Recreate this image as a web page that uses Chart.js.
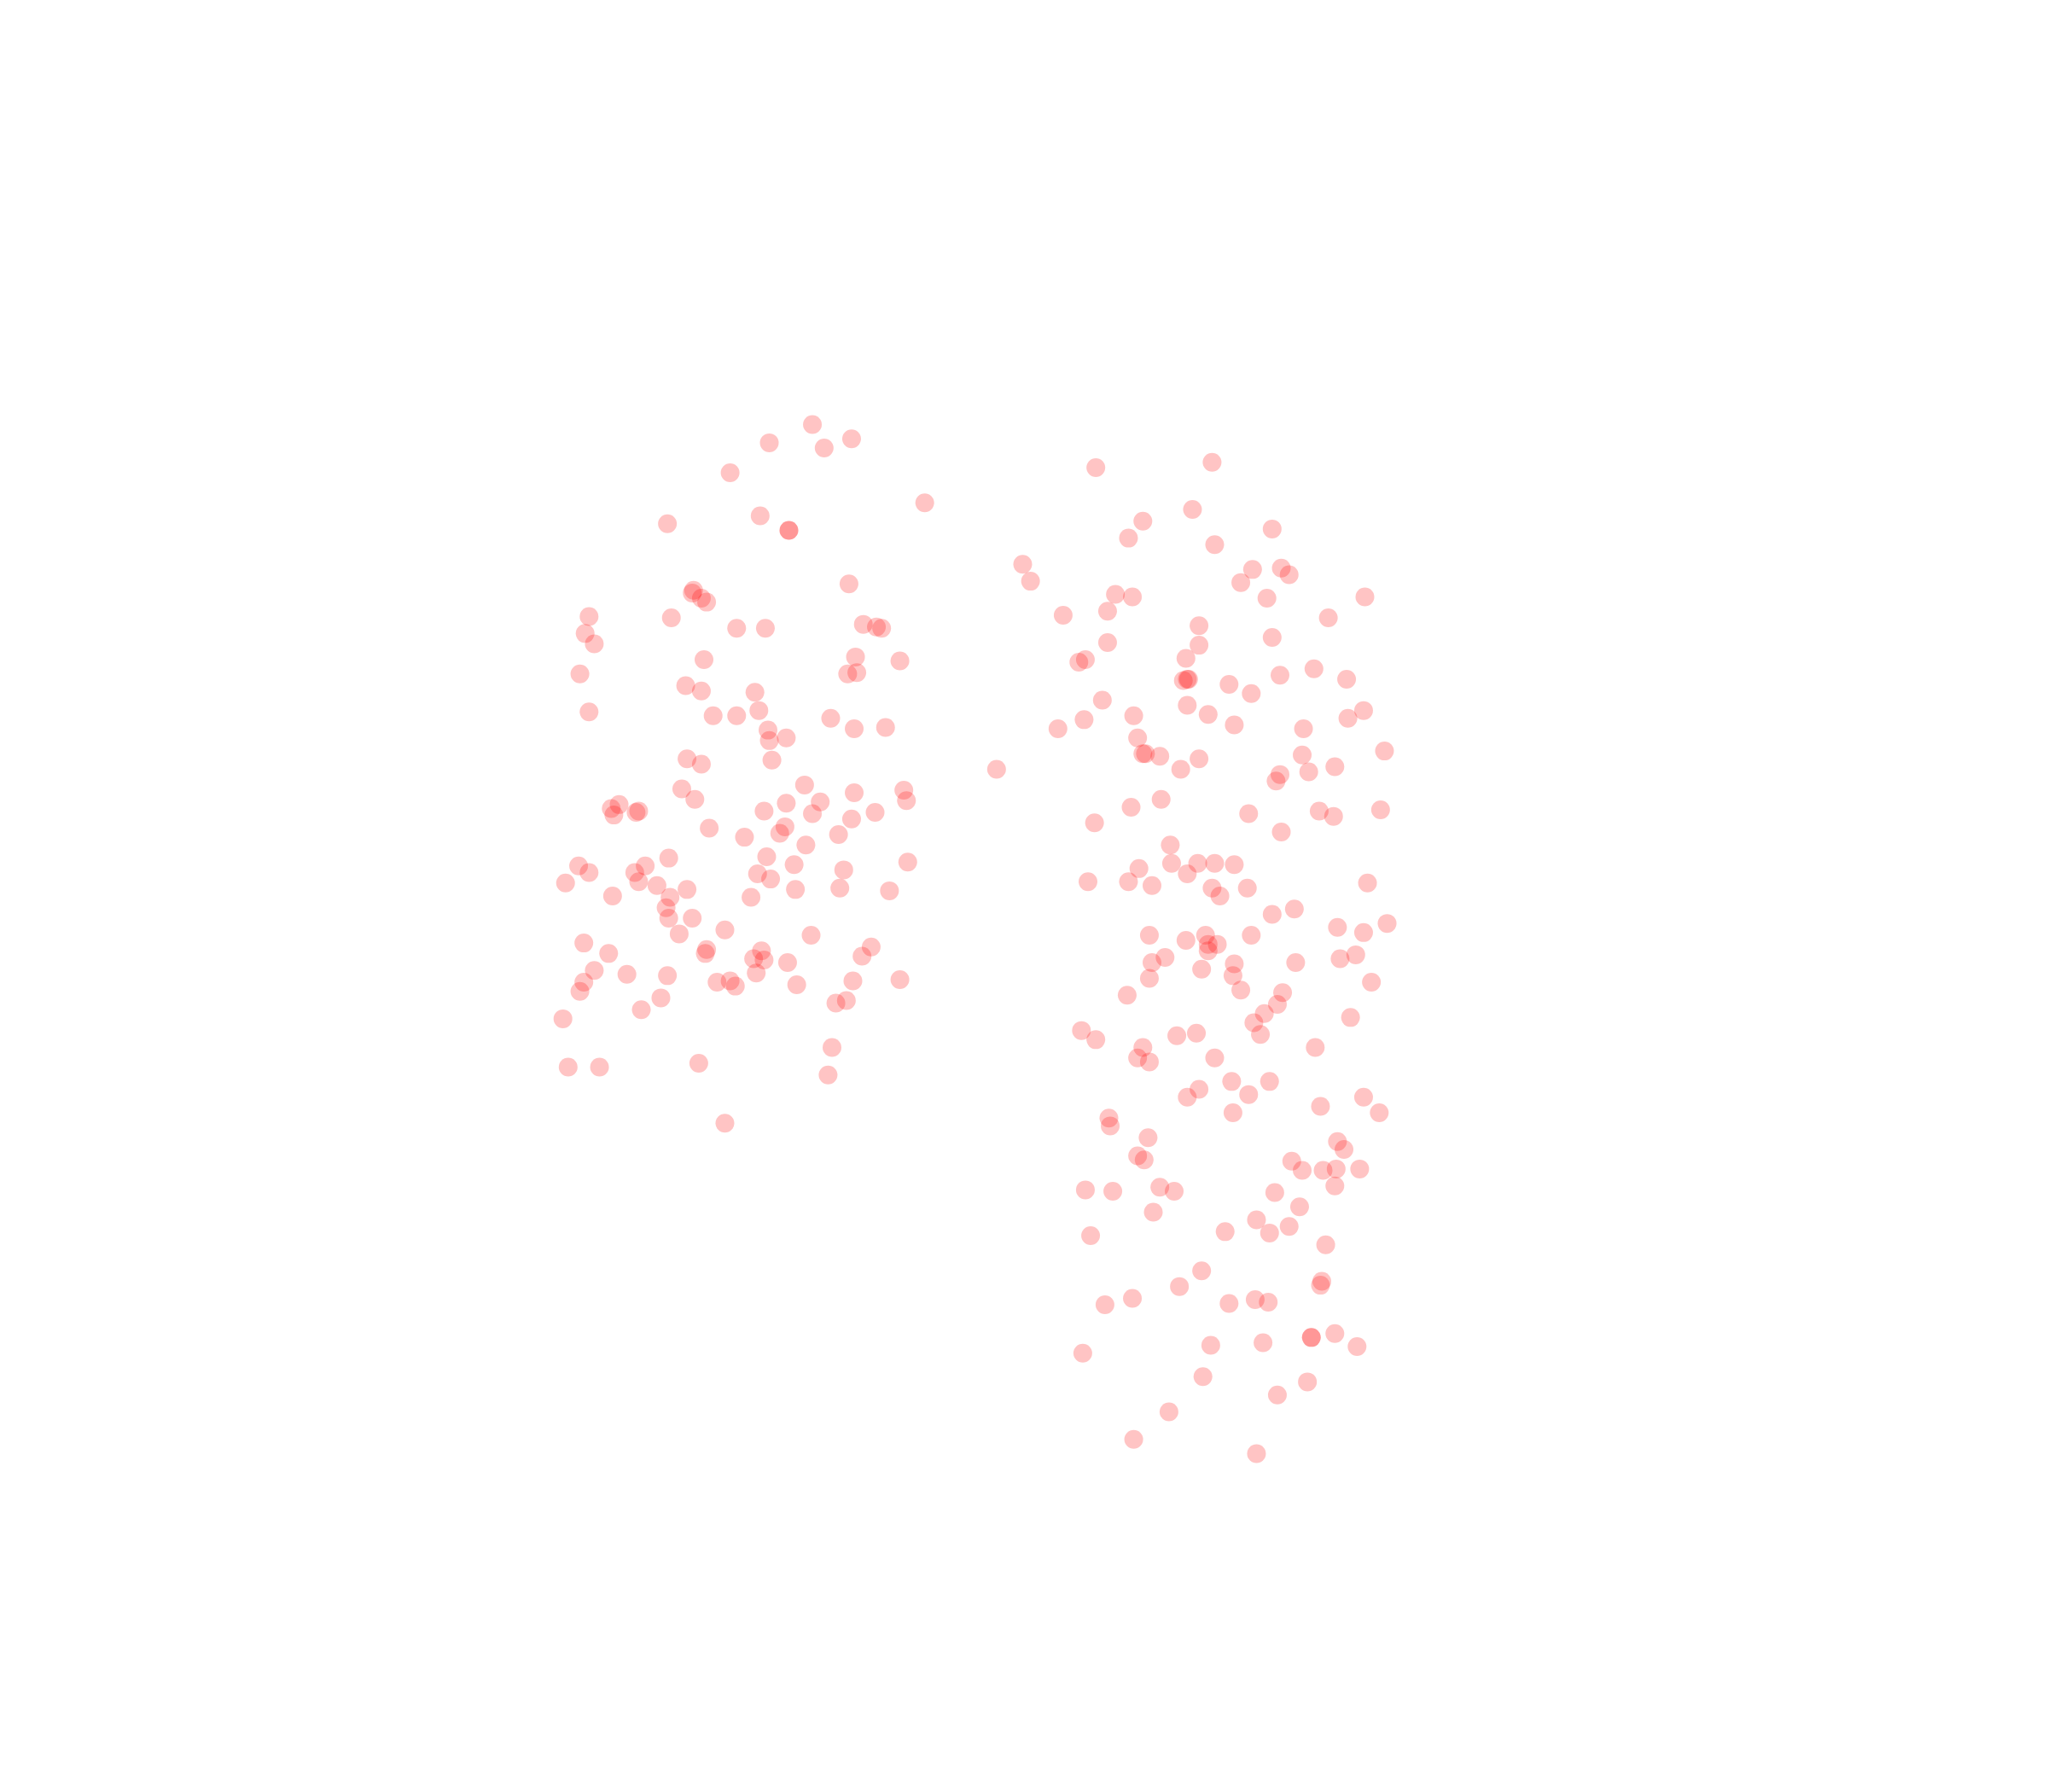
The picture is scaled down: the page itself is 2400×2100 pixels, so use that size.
<!DOCTYPE html>
<html><head><meta charset="utf-8">
<style>html,body{margin:0;padding:0;background:#fff}canvas{display:block}</style>
<script src="https://cdn.jsdelivr.net/npm/chart.js@4"></script></head>
<body><canvas id="c" width="2400" height="2100"></canvas>
<script>
const leftGroup = [[622,325],[589,339],[631,343],[652,336],[559,362],[708,385],[582,395],[511,401],[604,406],[604,406],
[650,447],[531,452],[530,454],[537,458],[541,461],[514,473],[451,472],[448,485],[455,493],[564,481],[586,481],[661,478],[671,480],[675,481],
[539,505],[655,503],[689,506],[649,516],[656,515],[444,516],[525,525],[537,529],[578,530],[581,544],[451,545],[546,548],[564,548],[636,550],[588,559],[654,558],[678,557],[602,565],[589,567],
[526,581],[537,585],[591,582],[522,604],[532,612],[616,601],[654,607],[692,605],[694,613],[602,615],[628,614],[474,616],[468,619],[470,624],[487,622],[489,621],[585,621],[622,623],[670,622],[652,627],[543,634],[601,633],[597,638],[570,641],[642,639],[617,647],[587,656],[512,657],[608,662],[695,660],[443,663],[451,668],[494,663],[486,668],[646,666],[580,669],[590,673],[433,676],[489,675],[503,678],[526,681],[609,681],[643,680],[681,682],[469,686],[513,687],[575,687],[510,695],[512,703],[530,703],[555,712],[520,715],[621,716],[447,722],[541,727],[540,730],[583,728],[667,725],[466,730],[577,734],[585,735],[660,732],[603,737],[455,743],[480,746],[511,747],[579,745],[447,752],[444,759],[549,752],[559,751],[563,755],[610,754],[653,751],[689,750],[506,764],[491,773],[640,768],[648,766],[431,780],[637,802],[535,814],[435,817],[459,817],[634,823],[555,860]];
const rightGroup = [[763,589],[839,358],[928,354],[913,390],[875,399],[864,412],[974,405],[930,417],[783,432],[789,445],[959,436],[981,435],[987,440],[950,446],[854,455],[867,457],[970,458],[1045,457],[848,468],[814,471],[1017,473],[918,479],[848,492],[974,488],[918,494],[908,504],[826,507],[831,505],[1006,512],[980,517],[1031,520],[906,521],[910,520],[909,520],[941,524],[958,531],[844,536],[909,540],[1044,544],[925,547],[868,548],[830,551],[1032,550],[945,555],[810,558],[998,558],[871,565],[875,577],[877,577],[888,579],[918,581],[997,578],[1060,575],[904,589],[1022,587],[980,593],[1002,591],[977,598],[889,612],[866,618],[956,623],[1010,621],[1021,625],[1057,620],[838,630],[981,637],[896,647],[897,661],[917,661],[930,661],[945,662],[872,665],[909,669],[833,675],[864,675],[882,678],[1047,676],[928,680],[955,680],[934,686],[991,696],[974,700],[1062,707],[1024,710],[1044,714],[880,716],[958,716],[908,720],[923,716],[932,723],[925,723],[925,728],[1038,731],[1026,734],[892,733],[882,737],[945,738],[992,737],[920,742],[944,747],[880,749],[1050,752],[950,758],[982,760],[863,762],[978,769],[968,776],[1034,779],[960,783],[828,789],[839,796],[901,793],[916,791],[965,792],[875,802],[1007,802],[871,810],[930,810],[880,813],[943,828],[972,828],[918,834],[956,838],[909,840],[1044,840],[1011,847],[944,852],[1056,852],[849,856],[850,862],[879,871],[1024,874],[1029,880],[871,885],[876,888],[989,889],[997,896],[1013,896],[1023,895],[1041,895],[1022,908],[831,911],[852,912],[888,909],[899,912],[976,913],[995,924],[883,928],[962,934],[987,939],[938,943],[972,944],[835,946],[1015,953],[920,973],[1012,981],[1011,984],[903,985],[867,994],[961,995],[971,997],[941,998],[846,999],[1004,1024],[1004,1024],[1022,1021],[967,1028],[927,1030],[1039,1031],[829,1036],[921,1054],[1001,1058],[978,1068],[895,1081],[868,1102],[962,1113]];
const xRange = [0,1568], yRange = [0,1372];
const toPts = a => a.map(([x,y]) => ({x,y}));
new Chart(document.getElementById('c'), {
  type:'scatter',
  data:{datasets:[leftGroup,rightGroup].map(g=>({data:toPts(g),pointBackgroundColor:'rgba(255,0,0,0.23)',pointBorderWidth:0,pointHoverBorderWidth:0,pointRadius:11,pointHoverRadius:11}))},
  options:{responsive:false,devicePixelRatio:1,animation:false,layout:{padding:0,autoPadding:false},
    plugins:{legend:{display:false},tooltip:{enabled:false}},
    scales:{x:{type:'linear',display:false,min:xRange[0],max:xRange[1]},
            y:{type:'linear',display:false,reverse:true,min:yRange[0],max:yRange[1]}}}
});
</script></body></html>
